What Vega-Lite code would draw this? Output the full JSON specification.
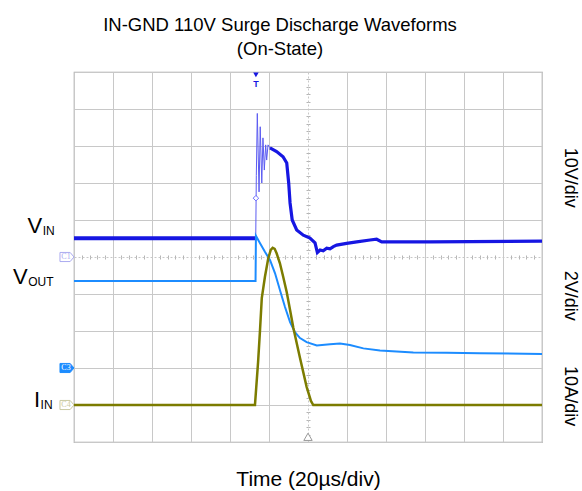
{
  "$schema": "https://vega.github.io/schema/vega-lite/v6.json",
  "width": 468,
  "height": 370,
  "autosize": {"type": "none"},
  "padding": {"left": 74, "top": 72, "right": 40, "bottom": 49},
  "background": "white",
  "config": {
    "view": {"stroke": "#a4a4a4", "strokeWidth": 1.2},
    "font": "Liberation Sans"
  },
  "title": {
    "text": ["IN-GND 110V Surge Discharge Waveforms", "(On-State)"],
    "anchor": "middle",
    "dx": -28,
    "offset": 14,
    "font": "Liberation Sans",
    "fontSize": 18.5,
    "fontWeight": "normal",
    "color": "black",
    "lineHeight": 24
  },
  "datasets": {
    "vin": [
      {"t": -120, "v": 0.51}, {"t": -26.8, "v": 0.51}, {"t": -26.5, "v": 2.2}, {"t": -26.0, "v": 3.88},
      {"t": -25.1, "v": 1.76}, {"t": -24.5, "v": 3.52}, {"t": -23.7, "v": 2.0}, {"t": -23.1, "v": 3.22},
      {"t": -22.4, "v": 2.35}, {"t": -21.7, "v": 3.03}, {"t": -21.2, "v": 2.62}, {"t": -20.5, "v": 3.03},
      {"t": -19.5, "v": 2.95}, {"t": -16.1, "v": 2.85}, {"t": -12.8, "v": 2.71}, {"t": -10.9, "v": 2.54},
      {"t": -9.9, "v": 2.0}, {"t": -9.2, "v": 1.46}, {"t": -8.1, "v": 1.0}, {"t": -5.8, "v": 0.73},
      {"t": -2.4, "v": 0.59}, {"t": 1.0, "v": 0.51}, {"t": 3.6, "v": 0.38}, {"t": 4.8, "v": 0.12},
      {"t": 6.2, "v": 0.19}, {"t": 7.8, "v": 0.17}, {"t": 9.6, "v": 0.24}, {"t": 11.3, "v": 0.22},
      {"t": 13.0, "v": 0.28}, {"t": 14.7, "v": 0.32}, {"t": 19.8, "v": 0.37}, {"t": 25.0, "v": 0.41},
      {"t": 31.8, "v": 0.46}, {"t": 35.2, "v": 0.48}, {"t": 37.8, "v": 0.41}, {"t": 62.6, "v": 0.41},
      {"t": 120, "v": 0.43}
    ],
    "vout": [
      {"t": -120, "v": -0.65}, {"t": -26.9, "v": -0.65}, {"t": -26.7, "v": 0.57}, {"t": -24.6, "v": 0.37},
      {"t": -22.1, "v": 0.14}, {"t": -19.5, "v": -0.08}, {"t": -16.9, "v": -0.44}, {"t": -14.4, "v": -0.89},
      {"t": -11.8, "v": -1.35}, {"t": -9.2, "v": -1.76}, {"t": -6.7, "v": -2.03}, {"t": -4.1, "v": -2.19},
      {"t": -0.7, "v": -2.30}, {"t": 4.5, "v": -2.39}, {"t": 11.3, "v": -2.36}, {"t": 16.4, "v": -2.34},
      {"t": 21.5, "v": -2.38}, {"t": 28.4, "v": -2.47}, {"t": 36.9, "v": -2.53}, {"t": 54.0, "v": -2.58},
      {"t": 71.1, "v": -2.59}, {"t": 88.2, "v": -2.60}, {"t": 120, "v": -2.62}
    ],
    "iin": [
      {"t": -120, "v": -4.0}, {"t": -27.2, "v": -4.0}, {"t": -25.6, "v": -2.84}, {"t": -24.6, "v": -1.97},
      {"t": -23.7, "v": -1.11}, {"t": -22.1, "v": -0.54}, {"t": -20.4, "v": -0.04}, {"t": -19.1, "v": 0.19},
      {"t": -18.1, "v": 0.25}, {"t": -17.1, "v": 0.22}, {"t": -16.1, "v": 0.10}, {"t": -14.4, "v": -0.17},
      {"t": -12.7, "v": -0.54}, {"t": -10.9, "v": -0.95}, {"t": -9.2, "v": -1.43}, {"t": -7.5, "v": -1.92},
      {"t": -4.1, "v": -2.73}, {"t": -0.7, "v": -3.51}, {"t": 1.5, "v": -3.89}, {"t": 2.7, "v": -4.0},
      {"t": 120, "v": -4.0}
    ],
    "channels": [
      {"ch": "C1", "t": -123.6, "v": 0},
      {"ch": "C3", "t": -123.6, "v": -3},
      {"ch": "C4", "t": -123.6, "v": -4}
    ],
    "names": [
      {"main": "V", "sub": "IN", "t": -136.3, "v": 0.64},
      {"main": "V", "sub": "OUT", "t": -143.7, "v": -0.73},
      {"main": "I", "sub": "IN", "t": -137.4, "v": -4.05}
    ],
    "perdiv": [
      {"label": "10V/div", "t": 134.4, "v": 2.14},
      {"label": "2V/div", "t": 134.4, "v": -1.05},
      {"label": "10A/div", "t": 134.4, "v": -3.76}
    ],
    "trigger": [{"t": -26.7, "v": 4.92, "tv": 4.68, "level": 1.59}],
    "hpos": [{"t": 0, "v": -4.86}]
  },
  "encoding": {
    "x": {"field": "t", "type": "quantitative", "scale": {"domain": [-120, 120], "nice": false, "zero": false}, "axis": null},
    "y": {"field": "v", "type": "quantitative", "scale": {"domain": [-5, 5], "nice": false, "zero": false}, "axis": null}
  },
  "layer": [
    {
      "data": {"name": "vin"},
      "mark": {"type": "line", "color": "#5c5cf2", "strokeWidth": 1},
      "encoding": {
        "x": {
          "field": "t", "type": "quantitative",
          "scale": {"domain": [-120, 120], "nice": false, "zero": false},
          "axis": {
            "values": [-120, -100, -80, -60, -40, -20, 0, 20, 40, 60, 80, 100, 120],
            "grid": true, "gridColor": "#c8c8c8", "gridWidth": 1,
            "gridDash": {"condition": {"test": "datum.value === 0", "value": [2, 2]}, "value": []},
            "ticks": false, "labels": false, "domain": false,
            "title": "Time (20µs/div)", "titleFont": "Liberation Sans", "titleFontSize": 21,
            "titleFontWeight": "normal", "titleColor": "black", "titlePadding": 26
          }
        },
        "y": {
          "field": "v", "type": "quantitative",
          "scale": {"domain": [-5, 5], "nice": false, "zero": false},
          "axis": {
            "values": [-5, -4, -3, -2, -1, 0, 1, 2, 3, 4, 5],
            "grid": true, "gridColor": "#c8c8c8", "gridWidth": 1,
            "gridDash": {"condition": {"test": "datum.value === 0", "value": [2, 2]}, "value": []},
            "ticks": false, "labels": false, "domain": false, "title": null
          }
        }
      }
    },
    {
      "data": {"name": "vin"},
      "transform": [{"filter": "datum.t <= -26.8"}],
      "mark": {"type": "line", "color": "#1616e2", "strokeWidth": 4},
      "encoding": {
        "x": {
          "field": "t", "type": "quantitative",
          "scale": {"domain": [-120, 120], "nice": false, "zero": false},
          "axis": {
            "orient": "bottom", "offset": -185,
            "values": [-116, -112, -108, -104, -96, -92, -88, -84, -76, -72, -68, -64, -56, -52, -48, -44, -36, -32, -28, -24, -16, -12, -8, -4, 4, 8, 12, 16, 24, 28, 32, 36, 44, 48, 52, 56, 64, 68, 72, 76, 84, 88, 92, 96, 104, 108, 112, 116],
            "grid": false, "labels": false, "domain": false, "ticks": true,
            "tickSize": 2, "tickColor": "#b4b4b4", "tickWidth": 1, "title": null
          }
        },
        "y": {
          "field": "v", "type": "quantitative",
          "scale": {"domain": [-5, 5], "nice": false, "zero": false},
          "axis": {
            "orient": "left", "offset": -234,
            "values": [-4.8, -4.6, -4.4, -4.2, -3.8, -3.6, -3.4, -3.2, -2.8, -2.6, -2.4, -2.2, -1.8, -1.6, -1.4, -1.2, -0.8, -0.6, -0.4, -0.2, 0.2, 0.4, 0.6, 0.8, 1.2, 1.4, 1.6, 1.8, 2.2, 2.4, 2.6, 2.8, 3.2, 3.4, 3.6, 3.8, 4.2, 4.4, 4.6, 4.8],
            "grid": false, "labels": false, "domain": false, "ticks": true,
            "tickSize": 2, "tickColor": "#b4b4b4", "tickWidth": 1, "title": null
          }
        }
      }
    },
    {
      "data": {"name": "vin"},
      "transform": [{"filter": "datum.t >= -19.5"}],
      "mark": {"type": "line", "color": "#1616e2", "strokeWidth": 3.2},
      "encoding": {
        "x": {
          "field": "t", "type": "quantitative",
          "scale": {"domain": [-120, 120], "nice": false, "zero": false},
          "axis": {
            "orient": "top", "offset": -185,
            "values": [-116, -112, -108, -104, -96, -92, -88, -84, -76, -72, -68, -64, -56, -52, -48, -44, -36, -32, -28, -24, -16, -12, -8, -4, 4, 8, 12, 16, 24, 28, 32, 36, 44, 48, 52, 56, 64, 68, 72, 76, 84, 88, 92, 96, 104, 108, 112, 116],
            "grid": false, "labels": false, "domain": false, "ticks": true,
            "tickSize": 2, "tickColor": "#b4b4b4", "tickWidth": 1, "title": null
          }
        },
        "y": {
          "field": "v", "type": "quantitative",
          "scale": {"domain": [-5, 5], "nice": false, "zero": false},
          "axis": {
            "orient": "right", "offset": -234,
            "values": [-4.8, -4.6, -4.4, -4.2, -3.8, -3.6, -3.4, -3.2, -2.8, -2.6, -2.4, -2.2, -1.8, -1.6, -1.4, -1.2, -0.8, -0.6, -0.4, -0.2, 0.2, 0.4, 0.6, 0.8, 1.2, 1.4, 1.6, 1.8, 2.2, 2.4, 2.6, 2.8, 3.2, 3.4, 3.6, 3.8, 4.2, 4.4, 4.6, 4.8],
            "grid": false, "labels": false, "domain": false, "ticks": true,
            "tickSize": 2, "tickColor": "#b4b4b4", "tickWidth": 1, "title": null
          }
        }
      }
    },
    {
      "data": {"name": "vout"},
      "mark": {"type": "line", "color": "#1c8cff", "strokeWidth": 2}
    },
    {
      "data": {"name": "iin"},
      "mark": {"type": "line", "color": "#7c7c00", "strokeWidth": 2.5}
    },
    {
      "data": {"name": "channels"},
      "mark": {"type": "point", "shape": "M-1,-0.65L0.45,-0.65L1,0L0.45,0.65L-1,0.65Z", "size": 196, "strokeWidth": 1, "opacity": 1},
      "encoding": {
        "stroke": {"field": "ch", "type": "nominal", "scale": {"domain": ["C1", "C3", "C4"], "range": ["#aaaaf0", "#1c8cff", "#cacaa2"]}, "legend": null},
        "fill": {"condition": {"test": "datum.ch === 'C3'", "value": "#1c8cff"}, "value": "white"}
      }
    },
    {
      "data": {"name": "channels"},
      "mark": {"type": "text", "fontSize": 8, "font": "Liberation Sans Narrow", "align": "center", "baseline": "middle", "dx": -1},
      "encoding": {
        "text": {"field": "ch"},
        "color": {"condition": {"test": "datum.ch === 'C3'", "value": "white"}, "field": "ch", "type": "nominal", "scale": {"domain": ["C1", "C3", "C4"], "range": ["#aaaaf0", "#1c8cff", "#cacaa2"]}, "legend": null}
      }
    },
    {
      "data": {"name": "names"},
      "mark": {"type": "text", "fontSize": 22, "align": "right", "baseline": "alphabetic", "color": "black"},
      "encoding": {"text": {"field": "main"}}
    },
    {
      "data": {"name": "names"},
      "mark": {"type": "text", "fontSize": 12, "align": "left", "baseline": "alphabetic", "color": "black", "dx": 0.5, "dy": 2},
      "encoding": {"text": {"field": "sub"}}
    },
    {
      "data": {"name": "perdiv"},
      "mark": {"type": "text", "fontSize": 18, "angle": 90, "align": "center", "baseline": "middle", "color": "black"},
      "encoding": {"text": {"field": "label"}}
    },
    {
      "data": {"name": "trigger"},
      "mark": {"type": "point", "shape": "triangle-down", "size": 30, "filled": true, "color": "#1616e2", "opacity": 1}
    },
    {
      "data": {"name": "trigger"},
      "mark": {"type": "text", "text": "T", "fontSize": 9, "fontWeight": "bold", "color": "#1616e2", "align": "center", "baseline": "middle"},
      "encoding": {"y": {"field": "tv", "type": "quantitative", "scale": {"domain": [-5, 5], "nice": false, "zero": false}, "axis": null}}
    },
    {
      "data": {"name": "trigger"},
      "mark": {"type": "point", "shape": "diamond", "size": 30, "fill": "white", "stroke": "#6a6aff", "strokeWidth": 1, "opacity": 1},
      "encoding": {"y": {"field": "level", "type": "quantitative", "scale": {"domain": [-5, 5], "nice": false, "zero": false}, "axis": null}}
    },
    {
      "data": {"name": "hpos"},
      "mark": {"type": "point", "shape": "triangle-up", "size": 70, "fill": "white", "stroke": "#9a9a9a", "strokeWidth": 1, "opacity": 1}
    }
  ],
  "resolve": {"axis": {"x": "independent", "y": "independent"}}
}
